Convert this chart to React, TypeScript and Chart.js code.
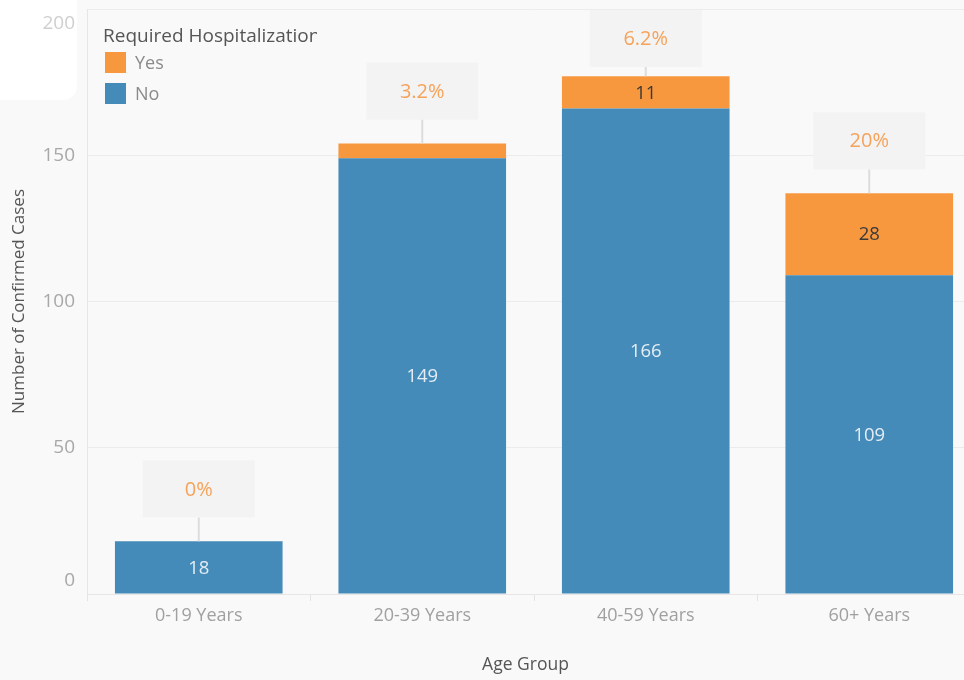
import React, { useEffect, useRef } from 'react';
import { Chart, registerables } from 'chart.js';

Chart.register(...registerables);

const categories = ['0-19 Years', '20-39 Years', '40-59 Years', '60+ Years'];
const noValues = [18, 149, 166, 109];
const yesValues = [0, 5, 11, 28];
const pctLabels = ['0%', '3.2%', '6.2%', '20%'];
const yTicks = [0, 50, 100, 150, 200];
const legendTitle = 'Required Hospitalization';
const legendItems = ['Yes', 'No'];
const yTitle = 'Number of Confirmed Cases';
const xTitle = 'Age Group';

const BLUE = '#458bb9';
const ORANGE = '#f7983f';
const FONT = "'Open Sans', sans-serif";
const VIEW_W = 964;

const overlayPlugin = {
  id: 'overlay',
  beforeDraw(chart: any) {
    const { ctx, width, height } = chart;
    ctx.save();
    ctx.fillStyle = '#f9f9f9';
    ctx.fillRect(0, 0, width, height);
    ctx.fillStyle = '#ffffff';
    ctx.beginPath();
    (ctx as any).roundRect(-20, -20, 97, 120, 14);
    ctx.fill();
    ctx.restore();
  },
  afterDatasetsDraw(chart: any) {
    const { ctx, chartArea, height } = chart;
    const yScale = chart.scales.y;
    const metaNo = chart.getDatasetMeta(0);
    const metaYes = chart.getDatasetMeta(1);
    ctx.save();
    // segment labels
    ctx.textAlign = 'center';
    ctx.textBaseline = 'middle';
    ctx.font = `18.5px ${FONT}`;
    categories.forEach((_, i) => {
      const bn = metaNo.data[i];
      if (bn && Math.abs(bn.base - bn.y) > 25) {
        ctx.fillStyle = '#e4edf4';
        ctx.fillText(String(noValues[i]), bn.x, (bn.y + bn.base) / 2 + 1);
      }
      const by = metaYes.data[i];
      if (by && Math.abs(by.base - by.y) > 25) {
        ctx.fillStyle = '#3a3a3a';
        ctx.fillText(String(yesValues[i]), by.x, (by.y + by.base) / 2 + 1);
      }
    });
    // percentage annotation boxes
    const boxW = 112;
    const boxH = 57;
    categories.forEach((_, i) => {
      const total = noValues[i] + yesValues[i];
      const x = metaNo.data[i].x;
      const barTop = yScale.getPixelForValue(total);
      let top = barTop - 24 - boxH;
      if (top < chartArea.top + 1) top = chartArea.top + 1;
      const bottom = top + boxH;
      ctx.strokeStyle = '#dcdcdc';
      ctx.lineWidth = 2;
      ctx.beginPath();
      ctx.moveTo(x, bottom);
      ctx.lineTo(x, barTop);
      ctx.stroke();
      ctx.fillStyle = '#f3f3f3';
      ctx.fillRect(x - boxW / 2, top, boxW, boxH);
      ctx.fillStyle = '#f5a35b';
      ctx.font = `20px ${FONT}`;
      ctx.fillText(pctLabels[i], x, top + boxH / 2 + 1);
    });
    // y tick labels (Tableau-style: kept inside axis range)
    ctx.textAlign = 'right';
    ctx.font = `19px ${FONT}`;
    yTicks.forEach((v) => {
      let y = yScale.getPixelForValue(v);
      y = Math.min(Math.max(y, chartArea.top + 15), chartArea.bottom - 13);
      ctx.fillStyle = v === 200 ? '#cfcfcf' : '#a8a8a8';
      ctx.fillText(String(v), 75, y);
    });
    // x axis title, centred on visible plot width
    ctx.textAlign = 'center';
    ctx.fillStyle = '#555555';
    ctx.font = `17.5px ${FONT}`;
    ctx.fillText(xTitle, (chartArea.left + VIEW_W) / 2, height - 15);
    // legend
    ctx.save();
    ctx.beginPath();
    ctx.rect(90, 0, 227, 120);
    ctx.clip();
    ctx.textAlign = 'left';
    ctx.fillStyle = '#555555';
    ctx.font = `19px ${FONT}`;
    ctx.fillText(legendTitle, 103, 37);
    const colors = [ORANGE, BLUE];
    legendItems.forEach((label, k) => {
      const sy = 52 + k * 31;
      ctx.fillStyle = colors[k];
      ctx.fillRect(105, sy, 21, 21);
      ctx.fillStyle = '#8a8a8a';
      ctx.font = `18px ${FONT}`;
      ctx.fillText(label, 135, sy + 12);
    });
    ctx.restore();
    ctx.restore();
  },
};

export default function App() {
  const ref = useRef<HTMLCanvasElement>(null);
  useEffect(() => {
    if (!ref.current) return;
    const chart = new Chart(ref.current, {
      type: 'bar',
      data: {
        labels: categories,
        datasets: [
          { label: 'No', data: noValues, backgroundColor: BLUE, barPercentage: 0.75, categoryPercentage: 1 },
          { label: 'Yes', data: yesValues, backgroundColor: ORANGE, barPercentage: 0.75, categoryPercentage: 1 },
        ],
      },
      options: {
        animation: false,
        responsive: false,
        maintainAspectRatio: false,
        layout: { padding: { top: 9, right: 9, left: 0, bottom: 0 } },
        plugins: { legend: { display: false }, tooltip: { enabled: false } },
        scales: {
          x: {
            stacked: true,
            grid: { display: true, offset: true, drawOnChartArea: false, drawTicks: true, tickLength: 7, color: '#e4e4e4' },
            border: { display: true, color: '#e6e6e6' },
            ticks: { color: '#a0a0a0', font: { family: FONT, size: 18 }, padding: 4, maxRotation: 0 },
            title: { display: false, text: xTitle },
            afterFit: (s: any) => { s.height = 86; },
          },
          y: {
            stacked: true,
            min: 0,
            max: 200,
            ticks: { display: false, stepSize: 50 },
            grid: { color: '#ececec', drawTicks: false },
            border: { display: true, color: '#e6e6e6' },
            title: { display: true, text: yTitle, color: '#555555', font: { family: FONT, size: 17 }, padding: { top: 9, bottom: 0 } },
            afterFit: (s: any) => { s.width = 87; },
          },
        },
      },
      plugins: [overlayPlugin],
    });
    return () => chart.destroy();
  }, []);
  return (
    <div style={{ position: 'fixed', left: 0, top: 0, width: VIEW_W, height: 680, overflow: 'hidden', background: '#f9f9f9' }}>
      <canvas ref={ref} width={990} height={680} style={{ width: 990, height: 680, display: 'block' }} />
    </div>
  );
}
